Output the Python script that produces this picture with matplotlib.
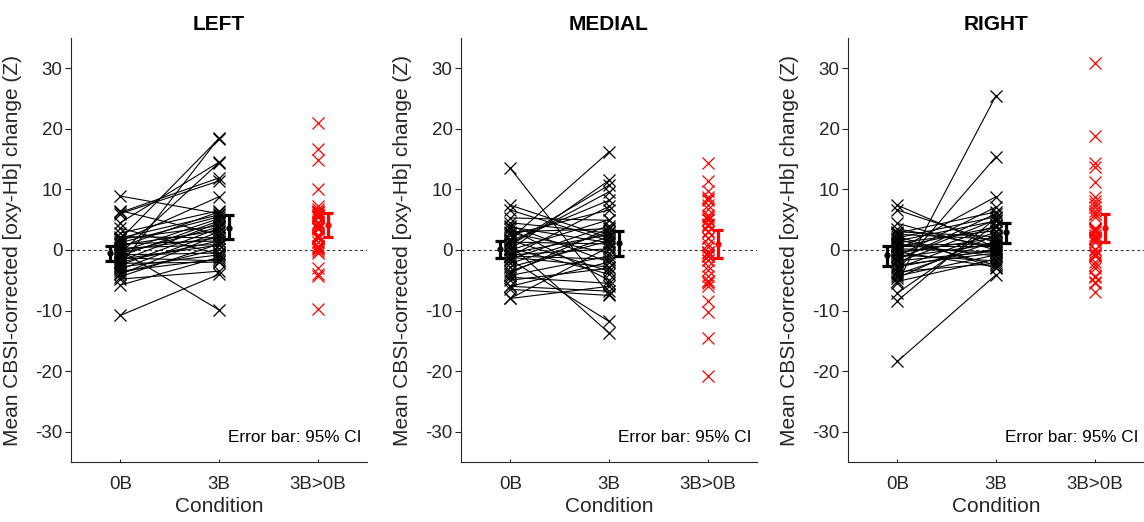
import numpy as np
import matplotlib
matplotlib.use("Agg")
import matplotlib.pyplot as plt

plt.rcParams["font.family"] = ["Liberation Sans", "DejaVu Sans"]
plt.rcParams["axes.unicode_minus"] = False

titles = ["LEFT", "MEDIAL", "RIGHT"]
tick_labels = ["0B", "3B", "3B>0B"]

# per-subject values (Z)
left_0b = [-2.5, 1.8, -0.5, 4.5, 6.2, 6.0, -0.1, -10.8, 8.9, -5.8, 6.5, 3.6, -4.8, 1.5,
           2.8, 2.0, 1.2, 0.5, -0.3, -1.0, -1.8, -2.5, -3.2, -4.0, -4.4, -2.0, -1.5, 0.0,
           1.0, 2.2, -0.8, -3.5, -2.2, 0.8, -1.3, 1.8, -2.8, 0.3, -0.6, -3.8]
left_3b = [18.5, 18.4, 14.4, 14.5, 11.9, 11.4, -9.9, -4.0, 6.0, -1.2, 2.5, -0.7, -3.5, 8.8,
           6.5, 5.8, 5.5, 6.3, 5.2, 4.8, 4.5, 3.6, 3.0, 2.5, 1.0, 1.5, 0.8, 2.0,
           1.5, 2.0, -0.5, -1.5, -2.0, 3.2, -1.8, 4.0, -0.8, 0.9, 3.8, 0.2]
left_diff = [21.0, 16.6, 14.9, 10.0, 5.7, 5.4, -9.8, 6.8, -2.9, 4.6, -4.0, -4.3, 1.3, 7.3,
             3.7, 3.8, 4.3, 5.8, 5.5, 5.8, 6.3, 6.1, 6.2, 6.5, 5.4, 3.5, 2.3, 2.0,
             0.5, -0.2, 0.3, 2.0, 0.2, 2.4, -0.5, 2.2, 2.0, 0.6, 4.4, 4.0]

medial_0b = [13.5, 0.8, -1.6, 3.5, 1.8, 0.1, 1.0, 7.4, 6.6, -8.0, -8.0, 0.9, 1.5, -1.0,
             2.5, 5.3, 4.5, 3.0, -1.0, -0.5, -1.5, -2.8, -3.5, -4.2, -5.0, -6.0, -6.5, -6.0,
             4.0, 0.3, -0.8, 1.3, 2.8, -1.2, 0.0, -2.2, 3.8, -4.5, 1.6, -3.8]
medial_3b = [-7.3, -13.7, -11.8, -5.0, 16.2, 11.5, 10.7, 2.0, 1.5, 0.5, -6.0, 9.6, 8.2, 7.2,
             6.6, 4.9, 2.8, 3.5, -1.5, 2.5, 4.0, 1.5, 2.2, -1.0, -3.0, -2.0, -7.5, -6.8,
             -2.0, -4.0, 0.2, 1.0, -0.5, -2.8, 5.0, 3.0, 1.2, -5.5, -3.5, 3.6]
medial_diff = [-20.8, -14.5, -10.2, -8.5, 14.4, 11.4, 9.7, -5.4, -5.1, 8.5, 2.0, 8.7, 6.7, 8.2,
               4.1, -0.4, -1.7, 0.5, -0.5, 3.0, 5.5, 4.3, 5.7, 3.2, 2.0, 4.0, -1.0, -0.8,
               -6.0, -4.3, 1.0, -0.3, -3.3, -1.6, 5.0, 5.2, -2.6, -1.0, -5.1, 7.4]

right_0b = [-5.4, -3.4, -18.4, -8.4, -7.1, 0.0, -1.0, 7.4, 6.6, 4.4, 3.5, 2.8, 2.0, 1.5,
            1.0, 0.5, -0.5, -1.5, -2.0, -2.5, -3.0, -4.0, -4.6, -5.2, 1.8, 2.3, 0.8, -0.8,
            -3.6, 3.0, 0.2, -1.2, -2.8, 1.2, -0.3, 2.6, -1.8, 0.6, -4.3, -1.6]
right_3b = [25.5, 15.4, -4.1, 5.3, 4.2, 8.8, 7.1, 0.4, 1.2, 0.0, 0.5, 6.3, 5.5, 4.8,
            -1.0, 3.8, 2.0, 5.0, 4.0, -0.5, 3.0, 1.5, 2.5, -1.5, -2.5, -3.0, 1.0, -1.8,
            -2.2, 2.2, -0.3, 1.0, 0.2, 3.2, -2.8, 1.8, -0.2, 0.6, -0.8, 6.0]
right_diff = [30.9, 18.8, 14.3, 13.7, 11.3, 8.8, 8.1, -7.0, -5.4, -4.4, -3.0, 3.5, 3.5, 3.3,
              -2.0, 3.3, 2.5, 6.5, 6.0, 2.0, 6.0, 5.5, 7.1, 3.7, -4.3, -5.3, 0.2, -1.0,
              1.4, -0.8, -0.5, 2.2, 3.0, 2.0, -2.5, -0.8, 1.6, 0.0, 3.5, 7.6]

# group mean and 95% CI (lower, upper) per condition: 0B, 3B, 3B>0B
left_mean = [-0.55, 3.7, 4.2]
left_ci = [(-1.8, 0.7), (1.8, 5.7), (2.2, 6.1)]
medial_mean = [0.1, 1.1, 1.0]
medial_ci = [(-1.4, 1.5), (-1.0, 3.1), (-1.3, 3.3)]
right_mean = [-0.8, 2.9, 3.7]
right_ci = [(-2.6, 0.7), (1.1, 4.5), (1.4, 6.0)]

panels = [
    (left_0b, left_3b, left_diff, left_mean, left_ci),
    (medial_0b, medial_3b, medial_diff, medial_mean, medial_ci),
    (right_0b, right_3b, right_diff, right_mean, right_ci),
]

axis_col = "#262626"
fig = plt.figure(figsize=(11.44, 5.22), dpi=100)
lefts = [71, 461, 848]

for i, (zb, tb, df, mn, ci) in enumerate(panels):
    ax = fig.add_axes([lefts[i] / 1144, 60 / 522, 296 / 1144, 424 / 522])

    ax.axhline(0, color="#333333", lw=0.8, ls=(0, (2.5, 2.5)), zorder=1)

    for a, b in zip(zb, tb):
        ax.plot([1, 2], [a, b], "k-", lw=0.8, marker="x", ms=8, mew=0.9, zorder=2)
    ax.plot(np.full(len(df), 3), df, "x", color="red", ms=8, mew=0.9, ls="none", zorder=2)

    xs = [0.9, 2.1, 3.1]
    cols = ["black", "black", "red"]
    for x, m, (lo, hi), c in zip(xs, mn, ci, cols):
        ax.errorbar(x, m, yerr=[[m - lo], [hi - m]], fmt="o", color=c, ms=3.5,
                    elinewidth=2.3, capsize=3.5, capthick=2.3, zorder=4)

    ax.set_xlim(0.5, 3.5)
    ax.set_ylim(-35, 35)
    ax.set_xticks([1, 2, 3])
    ax.set_xticklabels(tick_labels)
    ax.set_yticks(np.arange(-30, 31, 10))

    for s in ["top", "right"]:
        ax.spines[s].set_visible(False)
    for s in ["left", "bottom"]:
        ax.spines[s].set_color(axis_col)
        ax.spines[s].set_linewidth(0.8)
    ax.tick_params(axis="y", direction="out", length=4.5, width=0.8, pad=1.5,
                   labelsize=13.5, colors=axis_col)
    ax.tick_params(axis="x", direction="in", length=2.5, width=0.8, pad=10,
                   labelsize=13.5, colors=axis_col)

    ax.set_title(titles[i], fontsize=15, fontweight="bold", pad=6)
    ax.set_xlabel("Condition", fontsize=15, color=axis_col)
    ax.xaxis.set_label_coords(0.5, -0.083)
    ax.set_ylabel("Mean CBSI-corrected [oxy-Hb] change (Z)", fontsize=15, color=axis_col)
    ax.yaxis.set_label_coords(-0.166, 0.5)
    ax.text(0.982, 0.057, "Error bar: 95% CI", transform=ax.transAxes,
            ha="right", va="center", fontsize=12.3, color="black")

fig.savefig("out.png", dpi=100)
